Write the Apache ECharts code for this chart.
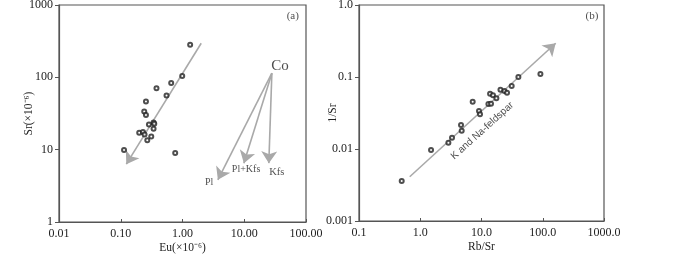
<!DOCTYPE html>
<html>
<head>
<meta charset="utf-8">
<script src="https://cdn.jsdelivr.net/npm/echarts@6/dist/echarts.min.js"></script>
<style>html,body{margin:0;padding:0;background:#fff}#c{width:700px;height:256px}</style>
</head>
<body>
<div id="c"></div>
<script>
// ---- Panel (a): Eu vs Sr ----
var euA = [1.33, 0.99, 0.656, 0.379, 0.551, 0.256, 0.240, 0.256, 0.340, 0.349, 0.286, 0.340, 0.199, 0.229, 0.243, 0.312, 0.269, 0.113, 0.762];
var srA = [283, 104, 83.7, 70.7, 55.9, 46.2, 33.6, 30.2, 23.7, 22.9, 22.2, 19.4, 17.2, 17.6, 16.2, 15.2, 13.5, 9.9, 9.0];
var trendA = [[2.01, 296], [0.123, 6.3]];
var coOrigin = [28.0, 114];
var coTips = [[3.74, 3.83], [9.86, 6.51], [25.0, 6.51]];
var labelsA = [
  {text: 'Co', pos: [38.1, 145], size: 15},
  {text: 'Pl', pos: [2.70, 3.56], size: 10},
  {text: 'Pl+Kfs', pos: [10.7, 5.38], size: 10},
  {text: 'Kfs', pos: [33.7, 4.89], size: 10.5},
  {text: '(a)', pos: [61.1, 705], size: 11}
];
var xTicksA = ['0.01', '0.10', '1.00', '10.00', '100.00']; // 10^-2 .. 10^2
var yTicksA = ['1', '10', '100', '1000'];                  // 10^0 .. 10^3

// ---- Panel (b): Rb/Sr vs 1/Sr ----
var rbSrB = [0.498, 1.50, 2.88, 3.30, 4.63, 4.75, 7.18, 9.10, 9.46, 12.97, 14.3, 13.8, 15.4, 17.5, 20.4, 23.7, 26.1, 31.1, 40.0, 91.6];
var invSrB = [0.0036, 0.00969, 0.01223, 0.01435, 0.0215, 0.01796, 0.0454, 0.0337, 0.0303, 0.0422, 0.0426, 0.0586, 0.0557, 0.0506, 0.0666, 0.0639, 0.0605, 0.075, 0.1, 0.110];
var trendB = [[0.673, 0.00412], [162.6, 0.294]];
var labelsB = [
  {text: 'K and Na-feldspar', pos: [10.3, 0.0179], size: 10, rotate: 42, sans: true},
  {text: '(b)', pos: [637, 0.703], size: 11}
];
var xTicksB = ['0.1', '1.0', '10.0', '100.0', '1000.0']; // 10^-1 .. 10^3
var yTicksB = ['0.001', '0.01', '0.1', '1.0'];           // 10^-3 .. 10^0

var SERIF = '"Liberation Serif","Times New Roman",serif';
var SANS = '"Liberation Sans",Arial,sans-serif';
var AXC = '#555';
var ARC = '#a9a9a9';

function fmt(ticks, minExp) {
  return function (v) {
    var i = Math.round(Math.log10(v)) - minExp;
    return ticks[i] !== undefined ? ticks[i] : '';
  };
}
function zip(a, b) { return a.map(function (v, i) { return [v, b[i]]; }); }

function logAxis(gi, min, max, ticks, minExp, isX, name, nameGap) {
  return {
    type: 'log', logBase: 10, gridIndex: gi, min: min, max: max,
    name: name, nameLocation: 'middle', nameGap: nameGap, nameMoveOverlap: false,
    nameTextStyle: {fontFamily: SERIF, fontSize: 11.5, color: '#222'},
    axisLine: {show: true, lineStyle: {color: AXC, width: 1.2}},
    axisTick: {show: true, inside: isX, length: isX ? 3 : 4, lineStyle: {color: AXC}},
    minorTick: {show: false},
    splitLine: {show: false},
    axisLabel: {formatter: fmt(ticks, minExp), fontFamily: SERIF, fontSize: 12, color: '#222', margin: isX ? 6 : 6, showMinLabel: true, showMaxLabel: true}
  };
}

function textSeries(xi, yi, arr) {
  return {
    type: 'scatter', xAxisIndex: xi, yAxisIndex: yi, symbolSize: 0, silent: true, z: 5,
    data: arr.map(function (l) {
      return {
        value: l.pos,
        label: {show: true, position: 'inside', formatter: l.text, color: '#222',
          fontFamily: l.sans ? SANS : SERIF, fontSize: l.size, rotate: l.rotate || 0}
      };
    })
  };
}

function arrowSeries(xi, yi, segs) {
  return {
    type: 'lines', coordinateSystem: 'cartesian2d', xAxisIndex: xi, yAxisIndex: yi,
    symbol: ['none', 'arrow'], symbolSize: [10, 12], silent: true, z: 1,
    lineStyle: {color: ARC, width: 1.6, opacity: 1, curveness: 0},
    data: segs.map(function (s) { return {coords: s}; })
  };
}

var chart = echarts.init(document.getElementById('c'), null, {renderer: 'canvas'});
chart.setOption({
  animation: false,
  backgroundColor: '#fff',
  grid: [
    {left: 59, top: 5, width: 247, height: 217, outerBoundsMode: 'none', containLabel: false, show: true, borderColor: AXC, borderWidth: 1.2, backgroundColor: 'transparent'},
    {left: 359, top: 5, width: 245, height: 216, outerBoundsMode: 'none', containLabel: false, show: true, borderColor: AXC, borderWidth: 1.2, backgroundColor: 'transparent'}
  ],
  xAxis: [
    logAxis(0, 0.01, 100, xTicksA, -2, true, 'Eu(×10⁻⁶)', 20),
    logAxis(1, 0.1, 1000, xTicksB, -1, true, 'Rb/Sr', 20)
  ],
  yAxis: [
    logAxis(0, 1, 1000, yTicksA, 0, false, 'Sr(×10⁻⁶)', 24),
    logAxis(1, 0.001, 1, yTicksB, -3, false, '1/Sr', 20)
  ],
  series: [
    arrowSeries(0, 0, [trendA]),
    arrowSeries(0, 0, coTips.map(function (t) { return [coOrigin, t]; })),
    {type: 'scatter', xAxisIndex: 0, yAxisIndex: 0, symbol: 'emptyCircle', symbolSize: 4,
      itemStyle: {color: '#222', borderColor: '#222', borderWidth: 0.8}, data: zip(euA, srA), z: 3},
    textSeries(0, 0, labelsA),
    arrowSeries(1, 1, [trendB]),
    {type: 'scatter', xAxisIndex: 1, yAxisIndex: 1, symbol: 'emptyCircle', symbolSize: 4,
      itemStyle: {color: '#222', borderColor: '#222', borderWidth: 0.8}, data: zip(rbSrB, invSrB), z: 3},
    textSeries(1, 1, labelsB)
  ]
});
</script>
</body>
</html>
